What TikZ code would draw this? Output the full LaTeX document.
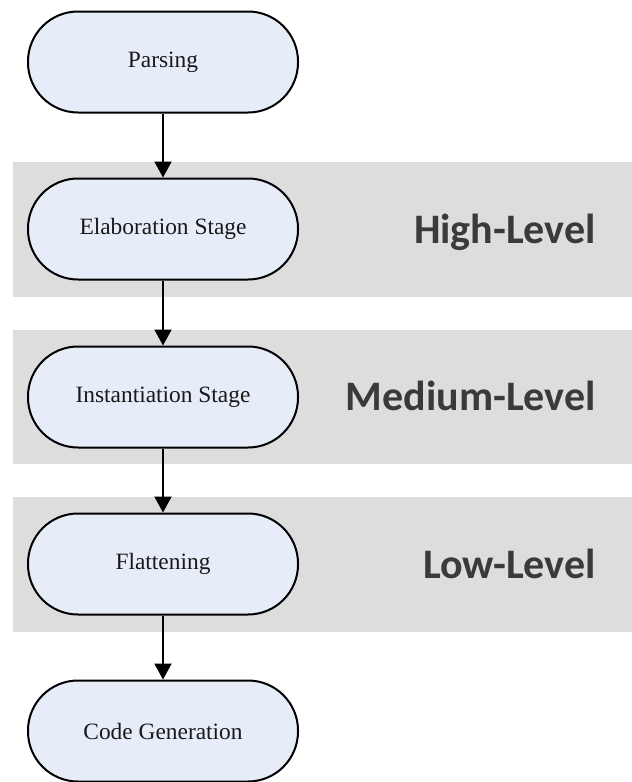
\documentclass[tikz,border=0pt]{standalone}
\usepackage{fontspec}
\setmainfont{Liberation Serif}
\newfontfamily\lvlfont{Carlito}
\usetikzlibrary{arrows.meta}
\definecolor{nodefill}{HTML}{E7EDF8}
\definecolor{bandfill}{HTML}{DDDDDD}
\definecolor{lvltext}{HTML}{3A3A3A}
\tikzset{
  stagebox/.style={draw=black, line width=2pt, fill=nodefill, rounded corners=50pt,
    minimum width=270pt, minimum height=101pt, inner sep=0pt,
    font=\fontsize{23.4}{28}\selectfont, text=black!90},
  band/.style={fill=bandfill, draw=none},
  lvl/.style={anchor=base east, inner sep=0pt, text=lvltext,
    font=\lvlfont\bfseries\fontsize{42}{50}\selectfont},
  flow/.style={line width=2pt, -{Triangle[length=16pt,width=17pt]}}
}
\begin{document}
\begin{tikzpicture}[x=1pt,y=-1pt]
\useasboundingbox (0,0) rectangle (632,782);
\path[band] (13,162) rectangle (632,297);
\path[band] (13,330) rectangle (632,464);
\path[band] (13,497) rectangle (632,632);
\node[stagebox] (parse) at (163,62) {Parsing};
\node[stagebox] (elab) at (163,229) {Elaboration Stage};
\node[stagebox] (inst) at (163,397) {Instantiation Stage};
\node[stagebox] (flat) at (163,564) {Flattening};
\node[stagebox] (code) at (163,731) {Code Generation};
\node[lvl] (hl) at (596,243) {High-Level};
\node[lvl] (ml) at (596,410) {Medium-Level};
\node[lvl] (ll) at (596,578) {Low-Level};
\draw[flow] (parse) -- (elab);
\draw[flow] (elab) -- (inst);
\draw[flow] (inst) -- (flat);
\draw[flow] (flat) -- (code);
\end{tikzpicture}
\end{document}
